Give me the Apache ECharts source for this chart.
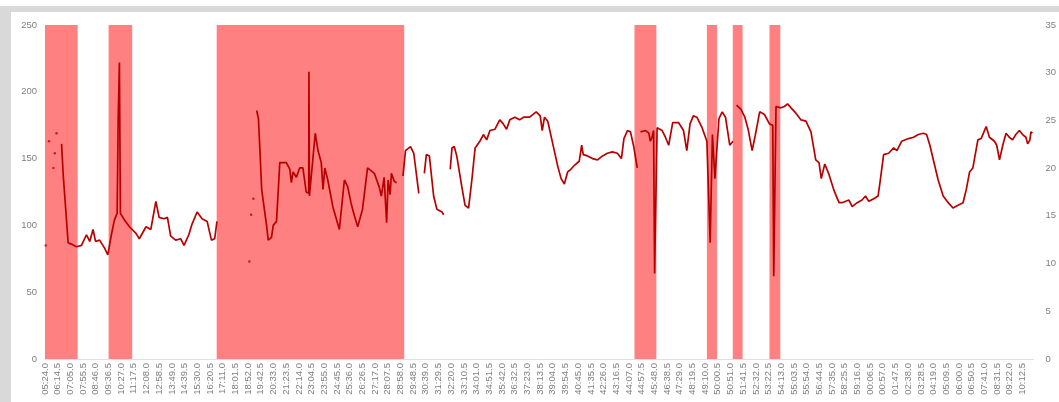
<!DOCTYPE html>
<html>
<head>
<meta charset="utf-8">
<script src="https://cdn.jsdelivr.net/npm/echarts@6/dist/echarts.min.js"></script>
<style>
html,body{margin:0;padding:0;background:#fff;}
#chart{width:1059px;height:402px;}
</style>
</head>
<body>
<div id="chart"></div>
<script>
// Elapsed seconds since 05:24.0 (start of the x axis)
const startSeconds = 324;
const tickStep = 50.5;
const axisEnd = 3932;

// Main trace (left axis); null = break in the line
const lineTimes = [
  66,72,92,105,125,145,165,178,191,201,217,237,250,263,276,287,291,296,300,316,336,362,375,402,421,441,454,474,487,500,520,540,553,572,585,605,625,645,662,675,684,700,
  842,849,855,862,869,882,888,901,908,921,934,960,974,980,987,1000,1013,1026,1039,1049,1050,1052,1075,1086,1099,1106,1113,1125,1145,1171,1191,1204,1217,1231,1244,1263,1283,1310,1329,1338,1349,1359,1365,1373,1378,1389,1399,1410,
  1424,1434,1454,1467,1487,1498,
  1509,1517,1529,1546,1559,1579,1586,1600,
  1612,1619,1628,1638,1658,1671,1685,1698,1711,1730,1744,1757,1770,1790,1809,1823,1836,1849,1869,1888,1904,1928,1954,1970,1978,1987,2000,2020,2040,2053,2066,2079,2092,2106,2125,2135,2141,2158,2178,2198,2218,2237,2257,2277,2293,2303,2317,2329,2342,2356,2362,
  2369,2389,2402,2408,2415,2421,2425,2435,2455,2468,2481,2497,2520,2540,2553,2566,2579,2593,2612,2633,2646,2655,2665,2681,2694,2707,2724,2737,2744,
  2751,2768,2784,2797,2813,2825,2843,2862,2882,2895,2899,2908,2928,2941,2954,2968,2987,3007,3027,3047,3066,3079,3088,3102,3119,3139,3152,3159,3171,3198,3211,3231,3250,3264,3277,3297,3314,3323,3336,3356,3376,3389,3408,3435,3455,3474,3494,3507,3520,3534,3553,3573,3593,3612,3632,3652,3665,3678,3691,3711,3724,3744,3757,3777,3786,3797,3810,3823,3836,3849,3862,3876,3889,3902,3909,3918,3922,3928
];
const lineValues = [
  161,139,87,86,84,85,93,88,97,88,89,83,78,92,104,109,179,222,109,104,99,94,90,99,97,118,106,105,106,92,89,90,85,93,101,110,105,103,89,90,103,null,
  186,180,156,127,117,99,89,91,100,103,147,147,142,132,140,136,143,143,125,124,215,122,169,156,147,127,143,134,114,97,134,129,117,107,99,112,143,139,129,122,136,102,134,123,139,133,132,null,
  137,156,159,154,124,null,
  139,153,152,122,112,110,108,null,
  142,158,159,152,129,115,113,134,158,163,168,164,171,172,179,176,172,179,181,179,181,181,185,182,171,181,178,161,144,135,131,140,142,145,148,160,153,152,150,149,152,154,155,154,150,165,171,170,159,143,null,
  170,171,169,163,166,171,64,173,171,166,160,177,177,171,156,176,182,181,174,163,87,168,135,180,185,181,160,163,null,
  190,187,181,172,156,167,185,183,176,175,62,189,188,189,191,188,184,179,178,170,149,147,135,146,138,126,120,117,117,119,114,117,119,122,118,120,122,134,153,154,158,156,163,165,166,168,169,168,160,149,134,122,117,113,115,117,127,140,143,164,165,174,166,163,160,149,160,169,166,164,168,171,168,166,161,164,170,169
];

// Isolated samples (drawn as dots)
const dotTimes = [3,16,33,39,46,813,820,829];
const dotValues = [85,163,143,154,169,73,108,120];

// Shaded periods (right axis, full height 35)
const bandStart = [0,253,683,2345,2633,2736,2882];
const bandEnd   = [130,347,1429,2432,2673,2775,2925];
const bandTop = 35;

const leftTicks = {min:0, max:250, interval:50};
const rightTicks = {min:0, max:35, interval:5};

function fmtTime(v){
  let s = Math.round((v + startSeconds) * 10) / 10;
  const m = Math.floor(s / 60) % 60;
  const sec = s - Math.floor(s / 60) * 60;
  const mm = (m < 10 ? '0' : '') + m;
  const ss = (sec < 10 ? '0' : '') + sec.toFixed(1);
  return mm + ':' + ss;
}

const lineData = lineTimes.map((t, i) => [t, lineValues[i]]);
const dotData = dotTimes.map((t, i) => [t, dotValues[i]]);
const bandData = bandStart.map((s, i) => [s, bandEnd[i], bandTop]);

const chart = echarts.init(document.getElementById('chart'), null, {renderer: 'canvas'});
const labelFont = {color: '#7f7f7f', fontSize: 9.5, fontFamily: 'Liberation Sans, Arial, sans-serif'};

chart.setOption({
  animation: false,
  backgroundColor: '#ffffff',
  graphic: [
    {type: 'rect', left: 0, top: 6, shape: {width: 1059, height: 6}, style: {fill: '#d9d9d9'}, z: 0},
    {type: 'rect', left: 0, top: 6, shape: {width: 11, height: 396}, style: {fill: '#d9d9d9'}, z: 0}
  ],
  grid: {left: 45, right: 18.5, top: 25, bottom: 43, containLabel: false},
  xAxis: {
    type: 'value',
    min: 0,
    max: axisEnd,
    interval: tickStep,
    axisLine: {show: true, lineStyle: {color: '#e0e0e0', width: 1}},
    axisTick: {show: false},
    splitLine: {show: false},
    axisLabel: Object.assign({rotate: 90, margin: 4, showMaxLabel: false, formatter: fmtTime}, labelFont)
  },
  yAxis: [
    Object.assign({
      type: 'value',
      axisLine: {show: false},
      axisTick: {show: false},
      splitLine: {show: false},
      axisLabel: Object.assign({margin: 8}, labelFont)
    }, leftTicks),
    Object.assign({
      type: 'value',
      position: 'right',
      axisLine: {show: false},
      axisTick: {show: false},
      splitLine: {show: false},
      axisLabel: Object.assign({margin: 12}, labelFont)
    }, rightTicks)
  ],
  series: [
    {
      type: 'custom',
      yAxisIndex: 1,
      z: 1,
      silent: true,
      encode: {x: [0, 1], y: 2},
      data: bandData,
      renderItem: function (params, api) {
        const p0 = api.coord([api.value(0), api.value(2)]);
        const p1 = api.coord([api.value(1), 0]);
        return {
          type: 'rect',
          shape: {x: p0[0], y: p0[1], width: p1[0] - p0[0], height: p1[1] - p0[1]},
          style: {fill: '#ff8080'}
        };
      }
    },
    {
      type: 'line',
      yAxisIndex: 0,
      z: 3,
      data: lineData,
      showSymbol: false,
      connectNulls: false,
      lineStyle: {color: '#b80000', width: 1.7},
      itemStyle: {color: '#b80000'}
    },
    {
      type: 'scatter',
      yAxisIndex: 0,
      z: 3,
      data: dotData,
      symbolSize: 2.5,
      itemStyle: {color: '#c00000'}
    }
  ]
});
</script>
</body>
</html>
